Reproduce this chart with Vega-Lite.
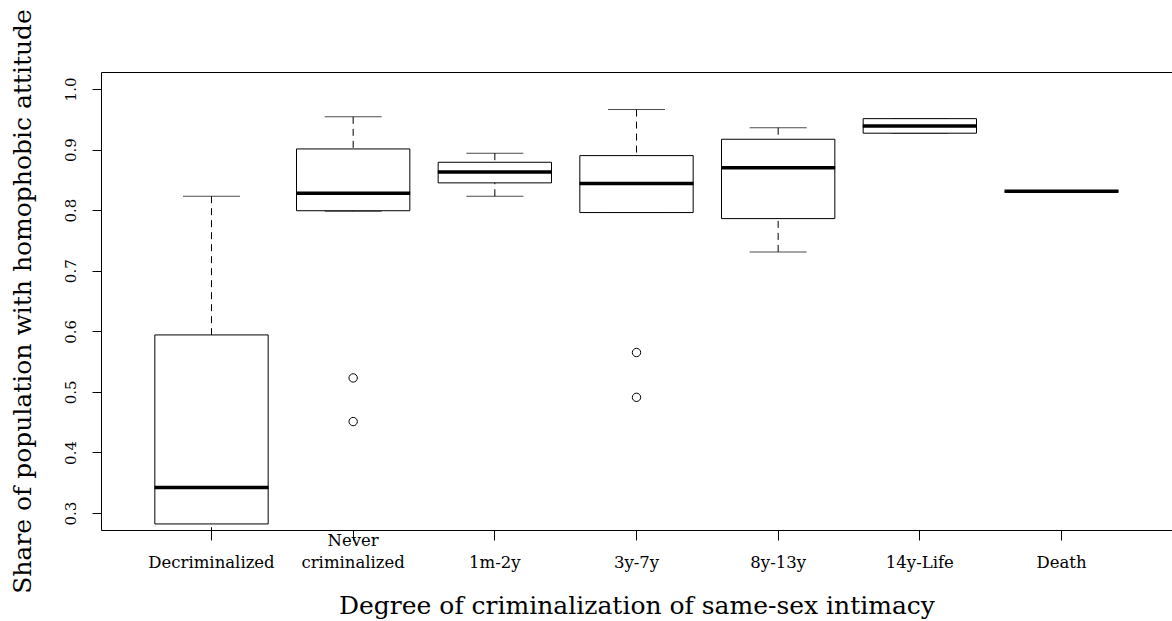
{
  "$schema": "https://vega.github.io/schema/vega-lite/v6.json",
  "autosize": "none",
  "width": 1071,
  "height": 458,
  "padding": {"left": 101, "top": 72, "right": 0, "bottom": 91},
  "background": "white",
  "config": {
    "view": {"stroke": "black", "strokeWidth": 1},
    "font": "DejaVu Serif",
    "axis": {"grid": false, "domain": false, "tickColor": "black", "labelColor": "black", "titleColor": "black", "titleFontWeight": "normal", "labelFont": "DejaVu Serif", "titleFont": "DejaVu Serif"}
  },
  "datasets": {
    "stats": [
      {"cat": "Decriminalized", "lo": 0.265, "q1": 0.282, "med": 0.342, "q3": 0.594, "hi": 0.823},
      {"cat": "Never criminalized", "lo": 0.798, "q1": 0.799, "med": 0.828, "q3": 0.901, "hi": 0.954},
      {"cat": "1m-2y", "lo": 0.823, "q1": 0.845, "med": 0.863, "q3": 0.879, "hi": 0.894},
      {"cat": "3y-7y", "lo": 0.796, "q1": 0.796, "med": 0.844, "q3": 0.890, "hi": 0.966},
      {"cat": "8y-13y", "lo": 0.731, "q1": 0.786, "med": 0.870, "q3": 0.917, "hi": 0.936},
      {"cat": "14y-Life", "lo": 0.927, "q1": 0.927, "med": 0.939, "q3": 0.951, "hi": 0.951},
      {"cat": "Death", "lo": 0.831, "q1": 0.831, "med": 0.831, "q3": 0.831, "hi": 0.831}
    ],
    "outliers": [
      {"cat": "Never criminalized", "value": 0.523},
      {"cat": "Never criminalized", "value": 0.451},
      {"cat": "3y-7y", "value": 0.565},
      {"cat": "3y-7y", "value": 0.491}
    ]
  },
  "encoding": {
    "x": {
      "field": "cat", "type": "nominal",
      "sort": ["Decriminalized", "Never criminalized", "1m-2y", "3y-7y", "8y-13y", "14y-Life", "Death"],
      "scale": {"paddingInner": 0, "paddingOuter": 0.28},
      "axis": {
        "title": "Degree of criminalization of same-sex intimacy",
        "titleFontSize": 25, "titleBaseline": "alphabetic", "titleY": 83,
        "labelAngle": 0, "labelFontSize": 16.5, "tickSize": 10,
        "labelPadding": {"condition": {"test": "datum.value == 'Never criminalized'", "value": 8}, "value": 30},
        "labelBaseline": "bottom", "labelLineHeight": 22,
        "labelExpr": "datum.label == 'Never criminalized' ? ['Never', 'criminalized'] : datum.label"
      }
    }
  },
  "layer": [
    {
      "data": {"name": "stats"},
      "mark": {"type": "rule", "strokeDash": [7, 5], "color": "black", "strokeWidth": 1, "clip": true},
      "encoding": {
        "y": {"field": "hi", "type": "quantitative",
          "scale": {"domain": [0.272, 1.028], "nice": false, "zero": false},
          "axis": {"title": "Share of population with homophobic attitude", "titleFontSize": 25, "titlePadding": 28,
            "values": [0.3, 0.4, 0.5, 0.6, 0.7, 0.8, 0.9, 1.0], "format": ".1f",
            "labelAngle": -90, "labelAlign": "center", "labelBaseline": "bottom", "labelFontSize": 15, "tickSize": 9, "labelPadding": 14}},
        "y2": {"field": "q3"}
      }
    },
    {
      "data": {"name": "stats"},
      "mark": {"type": "rule", "strokeDash": [7, 5], "color": "black", "strokeWidth": 1, "clip": true},
      "encoding": {
        "y": {"field": "lo", "type": "quantitative"},
        "y2": {"field": "q1"}
      }
    },
    {
      "data": {"name": "stats"},
      "mark": {"type": "tick", "color": "black", "size": 57, "thickness": 1, "clip": true},
      "encoding": {"y": {"field": "hi", "type": "quantitative"}}
    },
    {
      "data": {"name": "stats"},
      "mark": {"type": "tick", "color": "black", "size": 57, "thickness": 1, "clip": true},
      "encoding": {"y": {"field": "lo", "type": "quantitative"}}
    },
    {
      "data": {"name": "stats"},
      "mark": {"type": "bar", "fill": "white", "stroke": "black", "strokeWidth": 1, "width": {"band": 0.8}, "clip": true},
      "encoding": {
        "y": {"field": "q1", "type": "quantitative"},
        "y2": {"field": "q3"}
      }
    },
    {
      "data": {"name": "stats"},
      "mark": {"type": "tick", "color": "black", "size": 114, "thickness": 3.5, "opacity": 1},
      "encoding": {"y": {"field": "med", "type": "quantitative"}}
    },
    {
      "data": {"name": "outliers"},
      "mark": {"type": "point", "shape": "circle", "filled": false, "color": "black", "strokeWidth": 1, "size": 70, "opacity": 1},
      "encoding": {"y": {"field": "value", "type": "quantitative"}}
    }
  ]
}
